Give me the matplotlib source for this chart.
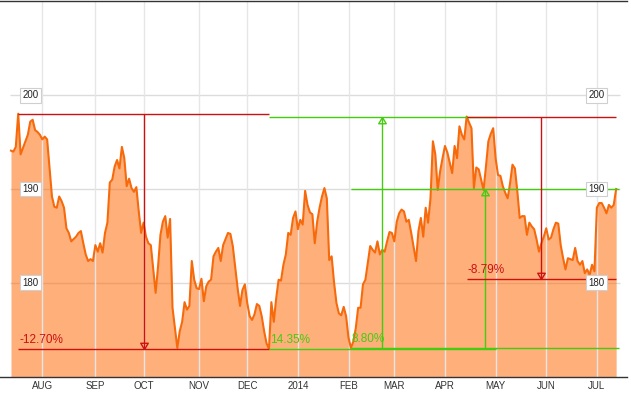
import matplotlib
matplotlib.use("Agg")
import matplotlib.pyplot as plt
from matplotlib.path import Path
from matplotlib.transforms import blended_transform_factory, offset_copy

plt.rcParams["font.family"] = ["Liberation Sans", "DejaVu Sans"]

# trading-day index (0 = 15 Jul 2013) and closing price
session = [
    0, 1, 2, 3, 4, 5, 7, 8, 9, 10, 11, 12, 13, 14, 15, 16, 17, 18, 19, 20,
    21, 22, 23, 24, 25, 27, 28, 29, 30, 31, 32, 33, 34, 35, 36, 37, 38, 39, 40, 41,
    42, 43, 44, 45, 46, 47, 48, 49, 50, 51, 52, 53, 54, 55, 56, 57, 58, 59, 60, 61,
    62, 63, 64, 65, 66, 67, 68, 69, 70, 71, 72, 73, 74, 75, 76, 77, 78, 79, 80, 81,
    82, 83, 84, 85, 86, 87, 88, 90, 91, 92, 93, 94, 95, 96, 97, 98, 99, 100, 101, 102,
    103, 104, 105, 106, 107, 108, 109, 110, 111, 112, 113, 114, 115, 116, 117, 118, 119, 120, 121, 122,
    123, 124, 125, 126, 127, 128, 129, 130, 131, 132, 133, 134, 135, 136, 137, 138, 139, 140, 141, 142,
    143, 144, 145, 146, 147, 148, 149, 150, 151, 152, 153, 154, 155, 156, 157, 158, 159, 160, 161, 162,
    163, 164, 165, 166, 168, 169, 170, 171, 172, 173, 174, 175, 176, 177, 178, 179, 180, 181, 182, 183,
    184, 185, 186, 187, 188, 189, 190, 191, 192, 193, 194, 195, 196, 197, 198, 199, 200, 201, 202, 203,
    204, 205, 206, 207, 208, 209, 210, 211, 212, 213, 214, 215, 216, 217, 218, 219, 220, 221, 222, 223,
    224, 225, 226, 227, 228, 229, 230, 231, 232, 233, 234, 235, 236, 237, 238, 239, 240, 241, 242, 243,
    244, 245, 246, 247, 248, 249, 250, 251,
]
close = [
    194.1, 194.0, 194.5, 198.05, 193.7, 194.4, 195.8, 197.2, 197.4, 196.3, 196.1, 195.8, 195.3, 195.6, 195.3, 192.2, 189.2, 188.1, 188.0, 189.2,
    188.7, 188.0, 185.8, 185.3, 184.4, 184.9, 185.3, 185.5, 184.2, 183.0, 182.3, 182.5, 182.3, 184.0, 183.3, 184.2, 183.2, 185.3, 186.4, 190.7,
    191.0, 192.4, 193.1, 192.2, 194.5, 193.3, 190.3, 191.1, 190.1, 189.7, 190.2, 187.6, 185.3, 186.4, 184.9, 184.2, 184.0, 181.5, 178.9, 181.7,
    185.1, 186.5, 187.1, 184.8, 186.8, 177.3, 175.1, 173.0, 174.8, 175.8, 177.9, 177.1, 177.5, 182.3, 180.3, 179.4, 179.3, 180.4, 178.0, 179.6,
    180.1, 180.3, 182.8, 183.3, 183.7, 182.3, 184.0, 185.3, 185.2, 183.9, 181.6, 179.4, 177.5, 179.2, 179.8, 177.8, 176.4, 176.0, 176.6, 177.7,
    177.5, 176.4, 174.8, 173.5, 172.9, 177.9, 175.8, 178.3, 180.3, 180.2, 181.9, 183.0, 185.3, 185.1, 186.9, 187.6, 185.7, 186.7, 186.2, 189.8,
    188.3, 187.5, 187.3, 184.2, 186.5, 188.0, 189.2, 190.1, 189.0, 182.4, 182.8, 180.0, 177.8, 176.7, 176.5, 177.4, 176.4, 174.1, 173.0, 173.7,
    175.1, 177.3, 177.3, 179.8, 180.3, 182.1, 183.9, 183.5, 183.2, 184.4, 183.0, 183.5, 183.3, 184.4, 185.4, 185.3, 184.4, 186.5, 187.4, 187.8,
    187.6, 186.5, 186.7, 185.3, 182.3, 185.5, 186.9, 184.9, 188.0, 186.4, 189.0, 195.1, 193.7, 189.9, 191.9, 193.3, 194.6, 193.9, 192.8, 191.7,
    194.6, 193.3, 196.7, 195.8, 195.3, 197.75, 197.1, 196.5, 190.1, 192.3, 192.1, 191.0, 189.9, 192.4, 195.1, 195.9, 196.5, 193.3, 191.5, 191.4,
    190.3, 189.6, 189.0, 190.6, 192.6, 192.2, 189.8, 186.9, 187.1, 187.1, 185.1, 186.4, 186.0, 185.7, 184.6, 183.3, 184.2, 184.9, 185.8, 184.6,
    184.8, 185.7, 186.4, 186.3, 184.0, 182.6, 181.4, 182.6, 182.5, 182.4, 183.7, 182.3, 181.9, 182.3, 181.0, 181.4, 180.8, 181.9, 181.2, 188.0,
    188.5, 188.5, 188.0, 187.4, 188.3, 188.0, 188.3, 190.0,
]

month_ticks = [13, 35, 55, 78, 98, 119, 140, 159, 180, 201, 222, 243]
month_labels = ["AUG", "SEP", "OCT", "NOV", "DEC", "2014", "FEB", "MAR", "APR", "MAY", "JUN", "JUL"]
price_ticks = [180, 190, 200]

# measurement tool overlays: span in sessions, start level, end level, label
measure_start = [3, 107, 141, 189]
measure_end = [107, 201, 252, 251]
measure_from = [198.05, 172.9, 173.0, 197.75]
measure_to = [172.9, 197.75, 190.0, 180.37]
measure_text = ["-12.70%", "14.35%", "8.80%", "-8.79%"]

LINE = "#f76a0c"
FILL = "#ff6600"
RED = "#cc1111"
GREEN = "#44cc11"

tip_down = Path([(0, 0), (-0.6, 1.0), (0.6, 1.0), (0, 0)], closed=True)
tip_up = Path([(0, 0), (-0.6, -1.0), (0.6, -1.0), (0, 0)], closed=True)

fig = plt.figure(figsize=(6.31, 3.93), dpi=100)
ax = fig.add_axes([0, 16 / 393, 627 / 631, 376 / 393])
ax.set_xlim(-4.55, 255.5)
ax.set_ylim(169.9, 210.1)

ax.grid(axis="x", color="#e6e6e6", linewidth=1.0, zorder=0)
ax.hlines(price_ticks, session[0] - 0.6, session[-1] + 1.6, color="#dcdcdc", linewidth=1.0, zorder=0.5)

ax.fill_between(session, close, 169.9, color=FILL, alpha=0.52, linewidth=0, zorder=1)
ax.plot(session, close, color=LINE, linewidth=1.5, zorder=3)

for x0, x1, a, b, txt in zip(measure_start, measure_end, measure_from, measure_to, measure_text):
    col = RED if b < a else GREEN
    mid = (x0 + x1) / 2
    ax.hlines([a, b], x0, x1, color=col, linewidth=1.0, zorder=4)
    ax.vlines(mid, min(a, b), max(a, b), color=col, linewidth=1.0, zorder=4)
    ax.plot([mid], [b], marker=tip_down if b < a else tip_up, markersize=9,
            markerfacecolor="none", markeredgecolor=col, markeredgewidth=1.0, zorder=4)
    ax.text(x0 + 0.4, min(a, b), txt, color=col, fontsize=8.5, ha="left", va="baseline",
            transform=offset_copy(ax.transData, fig=fig, x=0, y=4.5, units="points"), zorder=5)

box = dict(boxstyle="square,pad=0.25", facecolor="white", edgecolor="#cfcfcf", linewidth=0.8)
trans = blended_transform_factory(ax.transAxes, ax.transData)
for p in price_ticks:
    for xa in (30.5 / 627, 596.5 / 627):
        ax.text(xa, p, str(p), transform=trans, fontsize=7, ha="center", va="center",
                color="#222222", bbox=box, zorder=6)

ax.set_xticks(month_ticks)
ax.set_xticklabels(month_labels)
ax.set_yticks([])
ax.tick_params(axis="x", length=0, pad=3, labelsize=7, labelcolor="#333333")
for side in ("left", "right"):
    ax.spines[side].set_visible(False)
for side in ("top", "bottom"):
    ax.spines[side].set_color("#333333")
    ax.spines[side].set_linewidth(1.0)

fig.savefig("out.png", dpi=100)
